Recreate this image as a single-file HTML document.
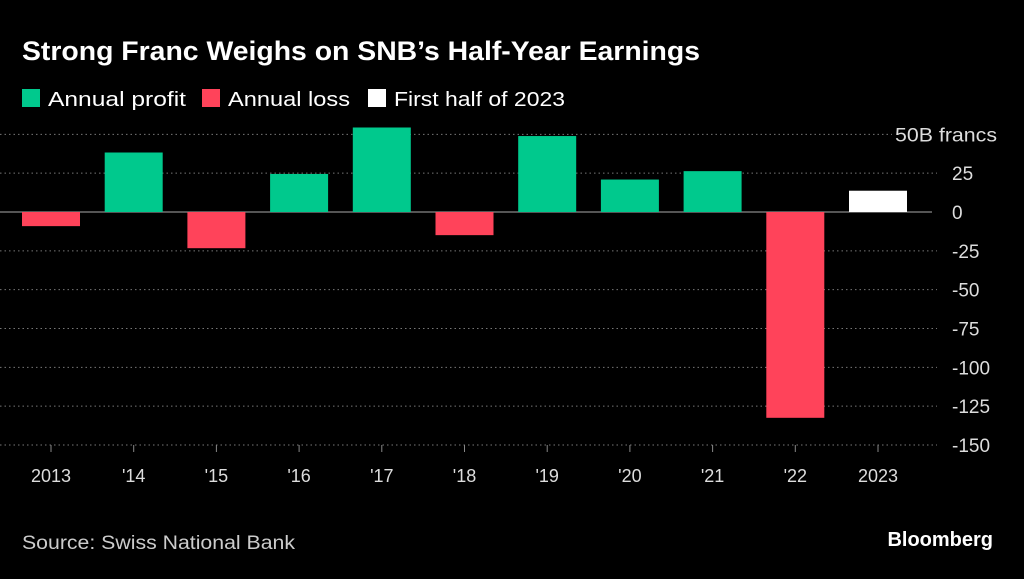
<!DOCTYPE html>
<html><head><meta charset="utf-8"><style>
body{margin:0;background:#000;width:1024px;height:574px;overflow:hidden;font-family:"Liberation Sans",sans-serif;color:#fff}
</style></head><body>
<svg width="1024" height="574">
<text x="22" y="60" font-size="27" font-weight="bold" fill="#fff" textLength="678" lengthAdjust="spacingAndGlyphs">Strong Franc Weighs on SNB’s Half-Year Earnings</text>
<g font-size="20" fill="#fff">
<rect x="22" y="89" width="18" height="18" fill="#00c98d"/>
<text x="48" y="106" textLength="138" lengthAdjust="spacingAndGlyphs">Annual profit</text>
<rect x="202" y="89" width="18" height="18" fill="#ff435a"/>
<text x="228" y="106" textLength="122" lengthAdjust="spacingAndGlyphs">Annual loss</text>
<rect x="368" y="89" width="18" height="18" fill="#fff"/>
<text x="394" y="106" textLength="171" lengthAdjust="spacingAndGlyphs">First half of 2023</text>
</g>
<g id="grid"></g><g id="bars"></g><g id="xl"></g><g id="yl"></g>
<text x="22" y="549" font-size="19" fill="#ccc" textLength="273" lengthAdjust="spacingAndGlyphs">Source: Swiss National Bank</text>
<text x="993" y="546" font-size="20" font-weight="bold" fill="#fff" text-anchor="end">Bloomberg</text>
</svg>
<script>
const categories=["2013","'14","'15","'16","'17","'18","'19","'20","'21","'22","2023"];
const values=[-9.1,38.3,-23.3,24.5,54.4,-14.9,48.9,20.9,26.3,-132.5,13.7];
const ticks=[50,25,0,-25,-50,-75,-100,-125,-150];
const tickLabels=["50B francs","25","0","-25","-50","-75","-100","-125","-150"];
const NS="http://www.w3.org/2000/svg";
const y=v=>212-v*(233/150);
const x=i=>22+i*82.7;
const bw=58;
function mk(t,a,p){const e=document.createElementNS(NS,t);for(const k in a)e.setAttribute(k,a[k]);document.getElementById(p).appendChild(e);return e;}
ticks.forEach((t,i)=>{
 const first=i===0;
 if(t!==0){const g=mk('line',{x1:0,x2:first?892:937,y1:y(t),y2:y(t),stroke:'#777','stroke-dasharray':'1.5 3','stroke-width':1},'grid');
 
 }
 const a={x:first?895:952,y:y(t)+7,'font-size':19,fill:'#ddd'};
 if(first){a.textLength=102;a.lengthAdjust='spacingAndGlyphs';}
 const l=mk('text',a,'yl');l.textContent=tickLabels[i];
 
 
});
values.forEach((v,i)=>{
 const col=i===values.length-1?'#fff':(v>=0?'#00c98d':'#ff435a');
 const r=mk('rect',{x:x(i),y:Math.min(y(v),y(0)),width:bw,height:Math.abs(y(v)-y(0)),fill:col},'bars');
 
 
 const tk=mk('line',{x1:x(i)+bw/2,x2:x(i)+bw/2,y1:445,y2:452,stroke:'#888'},'xl');
 
 
 const t=mk('text',{x:x(i)+bw/2,y:482,'font-size':18,fill:'#ddd','text-anchor':'middle'},'xl');t.textContent=categories[i];
 
 
});
const z=mk('line',{x1:0,x2:932,y1:y(0),y2:y(0),stroke:'#aaa','stroke-width':1},'grid');


</script>
</body></html>
